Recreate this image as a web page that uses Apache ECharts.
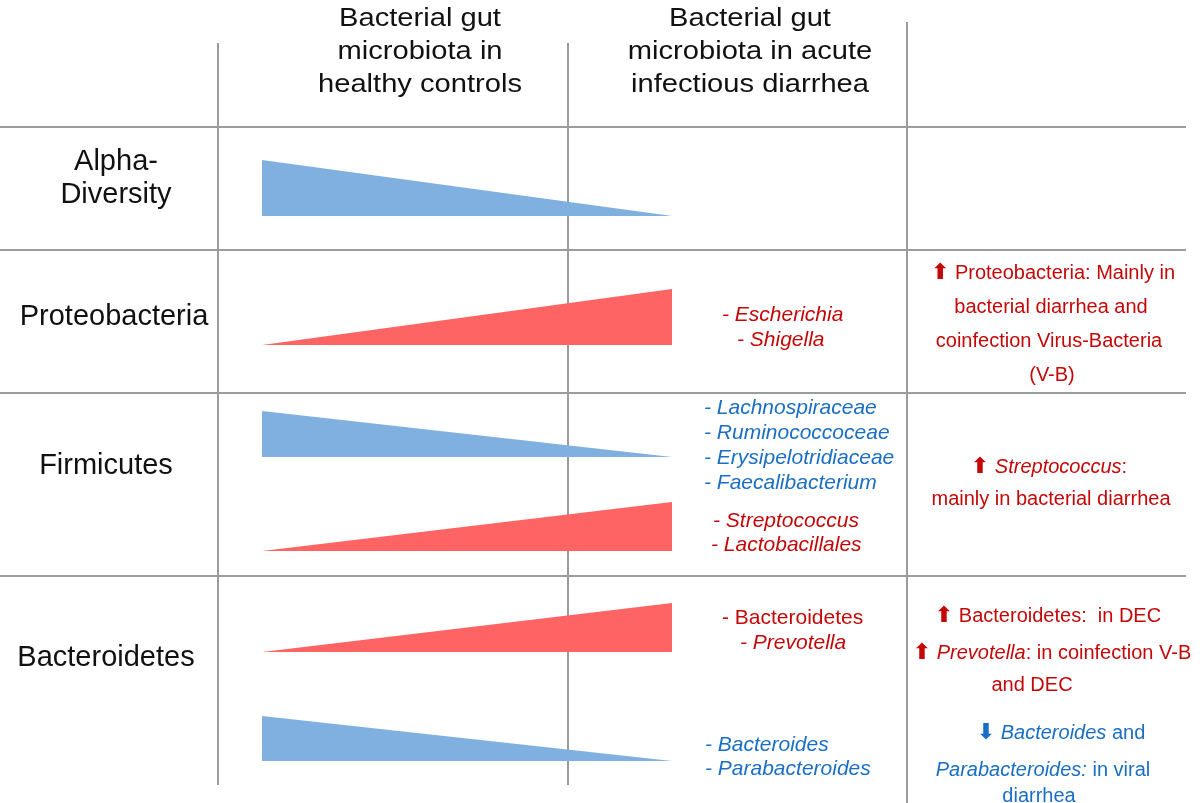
<!DOCTYPE html>
<html>
<head>
<meta charset="utf-8">
<script src="https://cdn.jsdelivr.net/npm/echarts@6/dist/echarts.min.js"></script>
<style>
html, body { margin: 0; padding: 0; background: #fff; }
#chart { width: 1200px; height: 803px; }
</style>
</head>
<body>
<div id="chart"></div>
<script>
// ---- data ----
var headers = ['Bacterial gut\nmicrobiota in\nhealthy controls', 'Bacterial gut\nmicrobiota in acute\ninfectious diarrhea'];
var rowLabels = ['Alpha-\nDiversity', 'Proteobacteria', 'Firmicutes', 'Bacteroidetes'];

// wedge height at the healthy end and at the diarrhea end
var wedgeRow = ['Alpha-Diversity', 'Proteobacteria', 'Firmicutes', 'Firmicutes', 'Bacteroidetes', 'Bacteroidetes'];
var wedgeHealthy = [56, 0, 46, 0, 0, 45];
var wedgeDiarrhea = [0, 56, 0, 49, 49, 0];

// taxa listed next to the wedges
var taxa = ['- {i|Escherichia}', '- {i|Shigella}', '- {i|Lachnospiraceae}', '- {i|Ruminococcoceae}',
    '- {i|Erysipelotridiaceae}', '- {i|Faecalibacterium}', '- {i|Streptococcus}', '- {i|Lactobacillales}',
    '- Bacteroidetes', '- {i|Prevotella}', '- {i|Bacteroides}', '- {i|Parabacteroides}'];
var taxaChange = ['up', 'up', 'down', 'down', 'down', 'down', 'up', 'up', 'up', 'up', 'down', 'down'];

// notes in the right column
var notes = ['{arr|\u2B06} Proteobacteria: Mainly in', 'bacterial diarrhea and', 'coinfection Virus-Bacteria', '(V-B)',
    '{arr|\u2B06} {i|Streptococcus}:', 'mainly in bacterial diarrhea',
    '{arr|\u2B06} Bacteroidetes:  in DEC', '{arr|\u2B06} {i|Prevotella}: in coinfection V-B', 'and DEC',
    '{arr|\u2B07} {i|Bacteroides} and', '{i|Parabacteroides:} in viral', 'diarrhea'];
var notesChange = ['up', 'up', 'up', 'up', 'up', 'up', 'up', 'up', 'up', 'down', 'down', 'down'];

// ---- layout ----
var hRules = [127, 250, 393, 576];
var vRules = [[218, 43, 785], [568, 43, 785], [907, 22, 803]];
var headerX = [420, 750];
var rowLabelPos = [[116, 178], [114, 317], [106, 466], [106, 658]];
var wedgeX = [262, 672];
var wedgeBase = [216, 345, 457, 551, 652, 761];
var taxaPos = [[722, 315], [737, 340], [704, 408], [704, 433], [704, 458], [704, 483],
    [713, 521], [711, 545], [722, 618], [740, 643], [705, 745], [705, 769]];
var notesPos = [[1053, 273], [1051, 307], [1049, 341], [1052, 375], [1049, 467], [1051, 499],
    [1048, 616], [1052, 653], [1032, 685], [1061, 733], [1043, 770], [1039, 796]];

var RED = '#C40808', BLUE = '#1A6FC4';
var WEDGE_RED = '#FE6464', WEDGE_BLUE = '#80B0E0';
var FONT = 'Liberation Sans, Arial, Helvetica, sans-serif';

var chart = echarts.init(document.getElementById('chart'));

var ruleData = hRules.map(function (y) { return [0, y, 1186, y]; })
    .concat(vRules.map(function (v) { return [v[0], v[1], v[0], v[2]]; }));

var wedgeData = wedgeRow.map(function (r, i) {
    return [wedgeX[0], wedgeX[1], wedgeBase[i], wedgeHealthy[i], wedgeDiarrhea[i]];
});

function textItem(kind, i, x, y) { return [x, y, kind, i]; }
var textData = [];
headers.forEach(function (h, i) { textData.push(textItem('header', i, headerX[i], 52)); });
rowLabels.forEach(function (r, i) { textData.push(textItem('row', i, rowLabelPos[i][0], rowLabelPos[i][1])); });
taxa.forEach(function (t, i) { textData.push(textItem('taxa', i, taxaPos[i][0], taxaPos[i][1])); });
notes.forEach(function (t, i) { textData.push(textItem('note', i, notesPos[i][0], notesPos[i][1])); });

function richFor(color, size) {
    return {
        i: { fontStyle: 'italic', fill: color, fontSize: size, fontFamily: FONT },
        arr: { fill: color, fontSize: size + 2, fontFamily: 'DejaVu Sans', fontWeight: 'bold' }
    };
}

chart.setOption({
    animation: false,
    grid: { left: 0, right: 0, top: 0, bottom: 0 },
    xAxis: { type: 'value', min: 0, max: 1200, show: false },
    yAxis: { type: 'value', min: 0, max: 803, inverse: true, show: false },
    series: [
        {
            type: 'custom',
            clip: false,
            data: ruleData,
            renderItem: function (params, api) {
                var a = api.coord([api.value(0), api.value(1)]);
                var b = api.coord([api.value(2), api.value(3)]);
                return {
                    type: 'line',
                    shape: { x1: a[0], y1: a[1], x2: b[0], y2: b[1] },
                    style: { stroke: '#9c9c9c', lineWidth: 2 }
                };
            }
        },
        {
            type: 'custom',
            clip: false,
            data: wedgeData,
            renderItem: function (params, api) {
                var x0 = api.value(0), x1 = api.value(1), base = api.value(2);
                var hL = api.value(3), hR = api.value(4);
                var pts = [
                    api.coord([x0, base]),
                    api.coord([x0, base - hL]),
                    api.coord([x1, base - hR]),
                    api.coord([x1, base])
                ];
                return {
                    type: 'polygon',
                    shape: { points: pts },
                    style: { fill: hR > hL ? WEDGE_RED : WEDGE_BLUE }
                };
            }
        },
        {
            type: 'custom',
            clip: false,
            data: textData,
            renderItem: function (params, api) {
                var item = textData[params.dataIndex];
                var p = api.coord([item[0], item[1]]);
                var kind = item[2], i = item[3];
                if (kind === 'header') {
                    return {
                        type: 'text', x: p[0], y: p[1], scaleX: 1.12,
                        style: {
                            text: headers[i], fill: '#111', fontSize: 26, fontFamily: FONT,
                            lineHeight: 33, align: 'center', verticalAlign: 'middle'
                        }
                    };
                }
                if (kind === 'row') {
                    return {
                        type: 'text', x: p[0], y: p[1],
                        style: {
                            text: rowLabels[i], fill: '#111', fontSize: 29, fontFamily: FONT,
                            lineHeight: 33, align: 'center', verticalAlign: 'middle'
                        }
                    };
                }
                if (kind === 'taxa') {
                    var c = taxaChange[i] === 'up' ? RED : BLUE;
                    return {
                        type: 'text', x: p[0], y: p[1],
                        style: {
                            text: taxa[i], fill: c, fontSize: 21, fontFamily: FONT,
                            fontStyle: taxa[i].indexOf('{i|') >= 0 ? 'italic' : 'normal',
                            align: 'left', verticalAlign: 'middle', rich: richFor(c, 21)
                        }
                    };
                }
                var nc = notesChange[i] === 'up' ? RED : BLUE;
                return {
                    type: 'text', x: p[0], y: p[1],
                    style: {
                        text: notes[i], fill: nc, fontSize: 20, fontFamily: FONT,
                        align: 'center', verticalAlign: 'middle', rich: richFor(nc, 20)
                    }
                };
            }
        }
    ]
});
</script>
</body>
</html>
